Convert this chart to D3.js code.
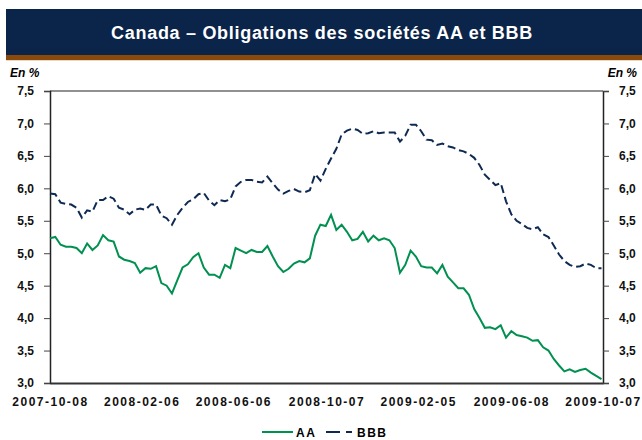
<!DOCTYPE html>
<html>
<head>
<meta charset="utf-8">
<script src="https://cdn.jsdelivr.net/npm/d3@7"></script>
<style>
  body { margin: 0; background: #fff; }
  svg text { font-family: "Liberation Sans", Arial, sans-serif; font-weight: bold; }
</style>
</head>
<body>
<svg id="chart" width="642" height="440"></svg>
<script>
// weekly readings, starting 2007-10-08
const startDate = '2007-10-08';
const endDate = '2009-10-07';
const tickDates = ['2007-10-08', '2008-02-06', '2008-06-06', '2008-10-07', '2009-02-05', '2009-06-08', '2009-10-07'];
const yTicks = [3.0, 3.5, 4.0, 4.5, 5.0, 5.5, 6.0, 6.5, 7.0, 7.5];

const aaValues = [
  5.23, 5.25, 5.13, 5.10, 5.10, 5.08, 5.00, 5.15, 5.05, 5.12,
  5.28, 5.20, 5.18, 4.95, 4.90, 4.88, 4.85, 4.70, 4.77, 4.76,
  4.80, 4.54, 4.50, 4.38, 4.58, 4.78, 4.83, 4.94, 5.00, 4.78,
  4.67, 4.67, 4.62, 4.82, 4.77, 5.08, 5.04, 5.00, 5.05, 5.02,
  5.02, 5.11, 4.95, 4.80, 4.71, 4.76, 4.84, 4.88, 4.86, 4.92,
  5.27, 5.44, 5.42, 5.59, 5.36, 5.44, 5.33, 5.20, 5.22, 5.33,
  5.18, 5.27, 5.20, 5.23, 5.20, 5.08, 4.70, 4.82, 5.04, 4.95,
  4.80, 4.78, 4.78, 4.69, 4.82, 4.64, 4.55, 4.46, 4.46, 4.36,
  4.14, 4.00, 3.85, 3.86, 3.83, 3.89, 3.70, 3.80, 3.74, 3.72,
  3.70, 3.65, 3.66, 3.55, 3.50, 3.37, 3.27, 3.18, 3.21, 3.17,
  3.20, 3.22, 3.16, 3.11, 3.06
];
const bbbValues = [
  5.92, 5.91, 5.78, 5.76, 5.75, 5.70, 5.55, 5.66, 5.64, 5.82,
  5.82, 5.88, 5.84, 5.70, 5.67, 5.60, 5.67, 5.69, 5.67, 5.75,
  5.75, 5.58, 5.54, 5.44, 5.59, 5.70, 5.79, 5.83, 5.91, 5.93,
  5.81, 5.74, 5.82, 5.80, 5.83, 6.03, 6.10, 6.13, 6.13, 6.10,
  6.09, 6.18, 6.08, 5.98, 5.92, 5.96, 5.99, 5.95, 5.94, 5.97,
  6.22, 6.12, 6.30, 6.46, 6.61, 6.83, 6.89, 6.92, 6.90, 6.84,
  6.85, 6.88, 6.85, 6.86, 6.86, 6.86, 6.72, 6.81, 6.98, 6.98,
  6.88, 6.75, 6.74, 6.67, 6.69, 6.65, 6.63, 6.59, 6.57, 6.53,
  6.47, 6.36, 6.21, 6.13, 6.05, 6.08, 5.80, 5.60, 5.50, 5.45,
  5.39, 5.37, 5.40, 5.29, 5.25, 5.12, 4.98, 4.88, 4.82, 4.79,
  4.80, 4.84, 4.82, 4.77, 4.77
];

const parseDate = d3.timeParse('%Y-%m-%d');
const fmtDate = d3.timeFormat('%Y-%m-%d');
const start = parseDate(startDate);
const dates = aaValues.map((_, i) => d3.timeDay.offset(start, i * 7));

const svg = d3.select('#chart');
const W = 642, H = 440;
const m = { left: 50, right: 39, top: 91, bottom: 57 };

// title banner
svg.append('rect').attr('x', 6).attr('y', 9).attr('width', W - 6).attr('height', 46).attr('fill', '#0b2449');
svg.append('rect').attr('x', 6).attr('y', 55).attr('width', W - 6).attr('height', 5).attr('fill', '#8b4a0c');
svg.append('rect').attr('x', 6).attr('y', 60).attr('width', W - 6).attr('height', 1).attr('fill', '#e8d9c4');
svg.append('text').attr('x', 322).attr('y', 39).attr('text-anchor', 'middle')
  .attr('fill', '#fff').style('font-size', '18px').style('letter-spacing', '0.7px')
  .text('Canada – Obligations des sociétés AA et BBB');

const x = d3.scaleTime().domain([start, parseDate(endDate)]).range([m.left, W - m.right]);
const y = d3.scaleLinear().domain([3, 7.5]).range([H - m.bottom, m.top]);
const fmtY = (v) => d3.format('.1f')(v).replace('.', ',');

// frame top
svg.append('line').attr('x1', m.left).attr('x2', W - m.right).attr('y1', m.top).attr('y2', m.top)
  .attr('stroke', '#222').attr('stroke-width', 1);

const gl = svg.append('g').attr('transform', `translate(${m.left},0)`)
  .call(d3.axisLeft(y).tickValues(yTicks).tickFormat(fmtY).tickSize(6).tickPadding(10));
const gr = svg.append('g').attr('transform', `translate(${W - m.right},0)`)
  .call(d3.axisRight(y).tickValues(yTicks).tickFormat(fmtY).tickSize(6).tickPadding(10));
[gl, gr].forEach((g) => {
  g.select('.domain').attr('stroke', '#222').attr('stroke-width', 1.5);
  g.selectAll('.tick line').attr('stroke', '#444');
  g.selectAll('text').attr('fill', '#111').style('font-size', '12px').style('font-family', '"Liberation Sans", Arial, sans-serif').style('font-weight', 'bold');
});

const gx = svg.append('g').attr('transform', `translate(0,${H - m.bottom})`)
  .call(d3.axisBottom(x).tickValues(tickDates.map(parseDate)).tickFormat(fmtDate).tickSize(0).tickPadding(14));
gx.select('.domain').attr('stroke', '#333').attr('stroke-width', 2);
gx.selectAll('text').attr('fill', '#111').style('font-size', '12px').style('letter-spacing', '1.5px')
  .style('font-family', '"Liberation Sans", Arial, sans-serif').style('font-weight', 'bold');

svg.append('text').attr('x', 10).attr('y', 77).style('font-size', '12px').style('font-style', 'italic').text('En %');
svg.append('text').attr('x', 637).attr('y', 77).attr('text-anchor', 'end').style('font-size', '12px').style('font-style', 'italic').text('En %');

const line = d3.line().x((d, i) => x(dates[i])).y((d) => y(d));
svg.append('path').datum(aaValues).attr('d', line).attr('fill', 'none')
  .attr('stroke', '#00904f').attr('stroke-width', 2);
svg.append('path').datum(bbbValues).attr('d', line).attr('fill', 'none')
  .attr('stroke', '#0e2a52').attr('stroke-width', 2).attr('stroke-dasharray', '8,4');

// legend
const lg = svg.append('g').attr('transform', 'translate(0,432)');
lg.append('line').attr('x1', 262).attr('x2', 293).attr('y1', 0).attr('y2', 0).attr('stroke', '#00904f').attr('stroke-width', 2);
lg.append('text').attr('x', 296).attr('y', 5).style('font-size', '12px').style('letter-spacing', '1.5px').text('AA');
lg.append('line').attr('x1', 326).attr('x2', 352).attr('y1', 0).attr('y2', 0).attr('stroke', '#0e2a52').attr('stroke-width', 2).attr('stroke-dasharray', '14,6');
lg.append('text').attr('x', 357).attr('y', 5).style('font-size', '12px').style('letter-spacing', '1.5px').text('BBB');
</script>
</body>
</html>
